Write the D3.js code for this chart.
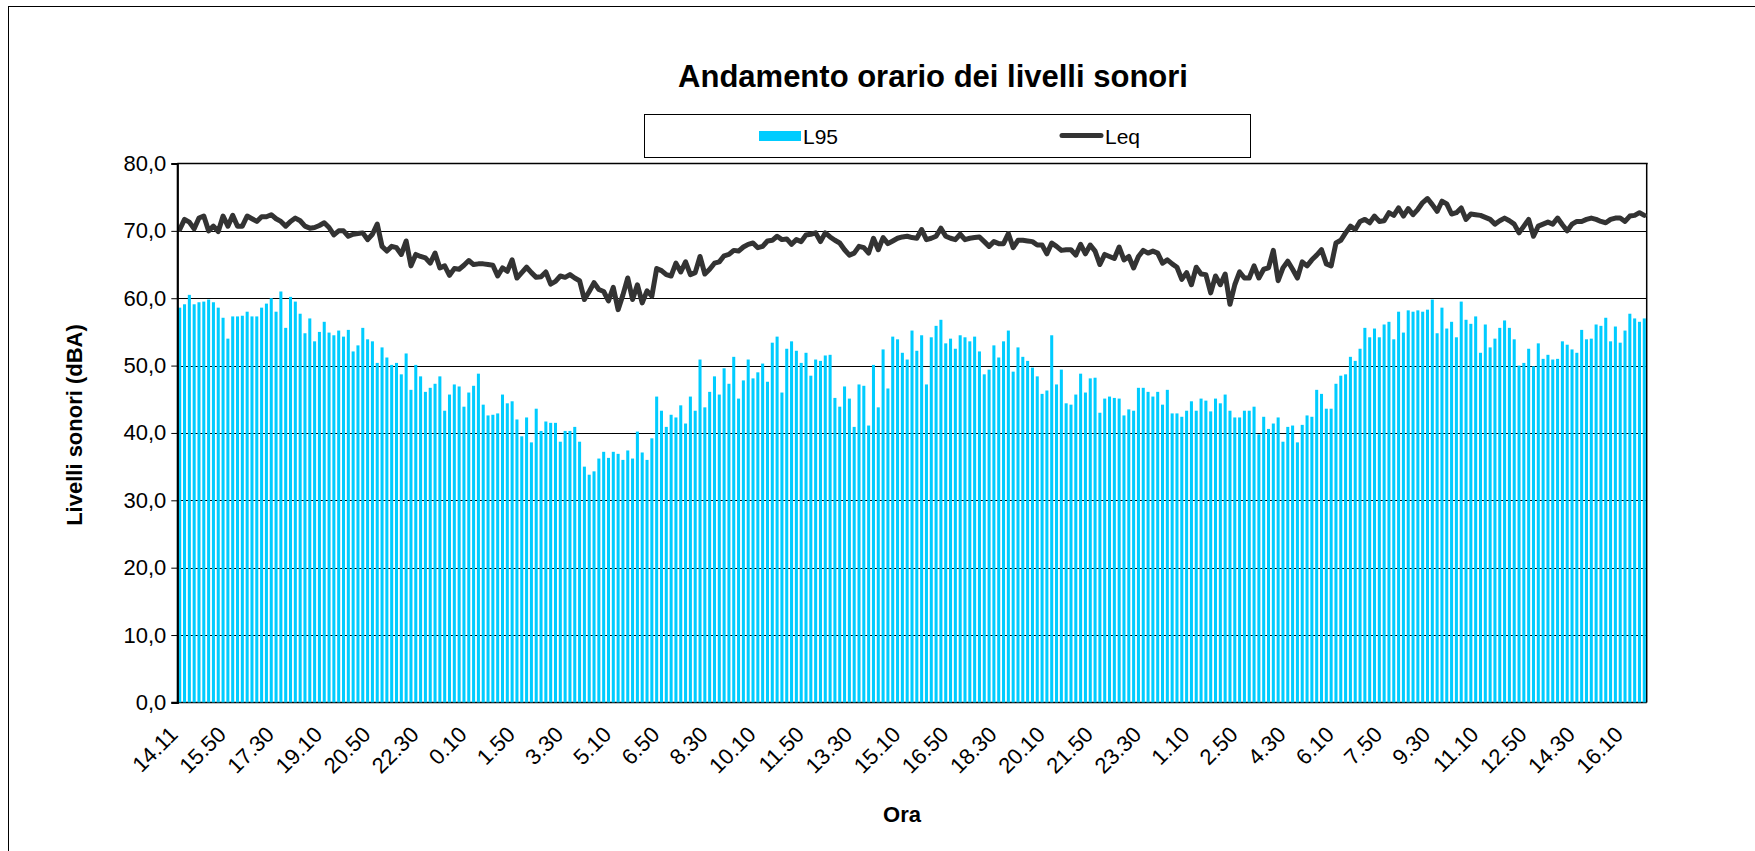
<!DOCTYPE html>
<html>
<head>
<meta charset="utf-8">
<script src="https://cdn.jsdelivr.net/npm/d3@7"></script>
<style>
  html, body { margin: 0; padding: 0; background: #ffffff; }
  svg { display: block; font-family: "Liberation Sans", Arial, sans-serif; }
</style>
</head>
<body>
<script>
// ---------------- DATA ----------------
const seriesNames = ["L95", "Leq"];

const tickLabels = ["14.11","15.50","17.30","19.10","20.50","22.30","0.10","1.50","3.30","5.10",
  "6.50","8.30","10.10","11.50","13.30","15.10","16.50","18.30","20.10","21.50",
  "23.30","1.10","2.50","4.30","6.10","7.50","9.30","11.10","12.50","14.30","16.10"];

const yTicks = [0, 10, 20, 30, 40, 50, 60, 70, 80];

const L95 = [
  58.6,59.1,60.5,59.1,59.4,59.5,59.8,59.4,58.6,57.1,54.0,57.3,57.3,57.4,58.0,57.3,57.3,58.6,59.2,60.0,
  58.0,61.0,55.6,60.2,59.5,57.7,54.8,57.0,53.6,55.0,56.5,54.9,54.5,55.2,54.3,55.3,52.1,53.0,55.6,53.9,
  53.6,50.4,52.7,51.2,50.1,50.4,48.7,51.8,46.4,50.1,48.4,46.1,46.7,47.3,48.4,43.3,45.7,47.2,46.9,43.9,
  46.0,47.0,48.8,44.2,42.6,42.7,42.9,45.7,44.4,44.7,42.0,39.5,42.3,38.6,43.6,40.3,41.7,41.5,41.5,38.7,
  40.3,40.3,40.9,38.7,35.0,33.8,34.3,36.2,37.2,36.3,37.2,36.9,36.0,37.4,36.2,40.2,37.1,36.0,39.2,45.4,
  43.3,40.9,42.7,42.3,44.1,41.4,45.4,43.3,50.9,43.8,46.1,48.4,45.7,49.6,47.3,51.3,45.1,47.8,50.9,48.1,
  49.0,50.3,47.6,53.4,54.3,46.0,52.5,53.6,52.2,50.4,51.9,48.5,50.9,50.7,51.5,51.6,45.2,43.9,46.9,45.1,
  40.9,47.2,47.0,41.1,50.1,43.8,52.4,46.6,54.3,53.9,51.9,50.9,55.2,52.2,54.5,47.2,54.2,55.9,56.8,53.3,
  54.0,52.5,54.5,54.2,53.6,54.3,52.1,48.7,49.4,53.0,51.2,53.6,55.2,49.1,52.7,51.3,50.7,49.7,48.4,45.8,
  46.3,54.5,47.2,49.4,44.4,44.2,45.7,48.8,46.0,48.1,48.2,43.0,45.1,45.4,45.2,45.1,42.6,43.5,43.3,46.7,
  46.7,46.1,45.4,46.1,44.2,46.4,42.9,42.9,42.4,43.3,44.7,43.3,45.1,44.8,43.2,45.1,44.4,45.7,43.3,42.3,
  42.3,43.3,43.3,43.9,39.8,42.4,40.6,41.4,42.3,38.7,40.9,41.1,38.6,41.2,42.6,42.4,46.4,45.8,43.6,43.6,
  47.3,48.5,48.7,51.3,50.7,52.5,55.6,54.2,55.5,54.2,56.1,56.5,53.9,58.0,54.9,58.2,58.0,58.2,58.0,58.3,
  59.8,54.8,58.6,55.5,56.5,54.2,59.5,56.8,56.2,57.3,51.9,56.1,52.7,54.0,55.6,56.7,55.6,53.9,50.0,50.4,
  52.5,49.9,53.3,51.0,51.6,50.9,51.0,53.6,53.1,52.4,51.9,55.3,53.9,54.0,56.1,55.9,57.1,53.6,55.8,53.4,
  55.2,57.7,57.0,56.5,57.0
];

const Leq = [
  70.2,71.7,71.3,70.3,71.9,72.2,70.0,70.7,69.9,72.2,70.7,72.3,70.7,70.7,72.2,71.8,71.4,72.1,72.1,72.4,
  71.8,71.4,70.7,71.4,71.9,71.5,70.7,70.4,70.5,70.8,71.2,70.5,69.4,70.0,70.0,69.2,69.5,69.6,
  69.7,68.7,69.5,71.0,67.7,67.0,67.7,67.5,66.5,68.5,64.8,66.5,66.2,66.0,65.2,66.7,64.5,64.8,63.4,64.4,
  64.3,64.9,65.6,65.0,65.1,65.1,65.0,64.9,63.3,64.5,64.0,65.7,63.0,63.8,64.6,63.8,63.1,63.2,63.9,
  62.1,62.5,63.3,63.1,63.5,63.0,62.6,59.8,61.0,62.3,61.3,61.0,59.6,61.6,58.3,60.5,63.0,59.8,62.0,59.3,
  61.1,60.3,64.4,64.1,63.5,63.3,65.2,63.9,65.4,63.5,63.8,66.2,63.6,64.3,65.2,65.4,66.3,66.5,
  67.1,67.0,67.6,68.0,68.2,67.5,67.7,68.5,68.6,69.2,68.7,68.8,68.0,68.7,68.4,69.4,69.5,69.7,68.4,69.7,
  69.1,68.6,68.2,67.2,66.4,66.7,67.7,67.5,66.7,68.9,67.2,69.0,68.1,68.5,68.9,69.1,69.2,69.0,
  68.9,70.2,68.7,68.9,69.2,70.4,69.2,68.9,68.7,69.5,68.7,68.9,69.0,69.1,68.4,67.7,68.4,68.1,68.1,69.6,
  67.5,68.6,68.6,68.5,68.4,67.9,67.9,66.6,68.2,67.7,67.1,67.2,67.2,66.4,68.0,66.6,67.9,67.0,65.0,
  66.5,66.2,65.9,67.6,65.7,66.2,64.5,66.2,67.1,66.7,67.0,66.7,65.2,65.7,65.1,64.6,62.8,63.8,62.0,64.6,
  63.6,63.5,60.8,63.3,62.0,63.6,59.1,62.0,63.9,63.0,63.0,64.8,63.0,64.3,64.5,67.1,62.6,64.5,
  65.5,64.3,63.0,65.4,64.8,65.7,66.4,67.2,65.1,64.8,68.2,68.6,69.7,70.7,70.2,71.4,71.7,71.2,72.2,71.4,
  71.5,72.7,72.3,73.4,72.2,73.3,72.4,73.2,74.2,74.8,73.9,72.9,74.4,74.0,72.5,72.7,
  73.4,71.7,72.5,72.4,72.3,72.0,71.7,71.0,71.5,71.9,71.5,71.0,69.7,70.7,71.7,69.2,70.7,71.0,71.3,71.0,
  71.9,70.9,70.0,71.0,71.4,71.4,71.7,71.9,71.7,71.4,71.2,71.7,71.9,71.9,71.4,72.2,72.3,72.7,72.3
];

// time categories: first reading at 14.11, then every 10 minutes
const categories = L95.map((_, k) => {
  if (k === 0) return "14.11";
  const m = 14 * 60 + 10 + k * 10;
  return Math.floor(m / 60) % 24 + "." + String(m % 60).padStart(2, "0");
});

// ---------------- LAYOUT ----------------
const W = 1755, H = 851;
const plot = { left: 177.3, right: 1646.7, top: 163.5, bottom: 702.4 };

const svg = d3.select("body").append("svg")
  .attr("width", W).attr("height", H);

svg.append("rect").attr("width", W).attr("height", H).attr("fill", "#ffffff");

// outer chart border (extends beyond viewport on right/bottom)
svg.append("rect")
  .attr("x", 8.5).attr("y", 6.5).attr("width", W + 20).attr("height", H + 20)
  .attr("fill", "none").attr("stroke", "#000").attr("stroke-width", 1);

const idx = d3.range(L95.length);
const x = d3.scaleBand().domain(idx).range([plot.left, plot.right])
  .paddingInner(0.37).paddingOuter(0.185);
const y = d3.scaleLinear().domain([0, 80]).range([plot.bottom, plot.top]);

const itFmt = d3.formatLocale({ decimal: ",", thousands: ".", grouping: [3], currency: ["€", ""] }).format(".1f");

// gridlines (behind bars)
svg.append("g").selectAll("line")
  .data(yTicks.filter(t => t > 0 && t < 80))
  .join("line")
  .attr("x1", plot.left).attr("x2", plot.right)
  .attr("y1", d => Math.round(y(d)) + 0.5).attr("y2", d => Math.round(y(d)) + 0.5)
  .attr("stroke", "#000").attr("stroke-width", 1);

// x axis line (behind bars)
svg.append("line")
  .attr("x1", plot.left).attr("x2", plot.right)
  .attr("y1", plot.bottom).attr("y2", plot.bottom)
  .attr("stroke", "#000").attr("stroke-width", 1.5);

// bars
svg.append("g").selectAll("rect")
  .data(L95)
  .join("rect")
  .attr("x", (d, i) => x(i))
  .attr("width", x.bandwidth())
  .attr("y", d => y(d))
  .attr("height", d => y(0) - y(d))
  .attr("fill", "#00CCFF");

// plot border top / right
svg.append("line")
  .attr("x1", plot.left).attr("x2", plot.right + 1)
  .attr("y1", plot.top).attr("y2", plot.top)
  .attr("stroke", "#000").attr("stroke-width", 1.5);
svg.append("line")
  .attr("x1", plot.right).attr("x2", plot.right)
  .attr("y1", plot.top).attr("y2", plot.bottom)
  .attr("stroke", "#000").attr("stroke-width", 1.5);

// Leq line
const line = d3.line()
  .x((d, i) => x(i) + x.bandwidth() / 2)
  .y(d => y(d));
svg.append("path")
  .datum(Leq)
  .attr("d", line)
  .attr("fill", "none")
  .attr("stroke", "#333333")
  .attr("stroke-width", 5)
  .attr("stroke-linejoin", "round")
  .attr("stroke-linecap", "round");

// y axis
const yAxis = svg.append("g")
  .attr("transform", `translate(${plot.left},0)`)
  .call(d3.axisLeft(y).tickValues(yTicks).tickSize(6).tickPadding(5).tickFormat(itFmt));
yAxis.select(".domain").attr("stroke", "#000").attr("stroke-width", 2.2);
yAxis.selectAll(".tick line").attr("stroke", "#000");
yAxis.selectAll("text")
  .attr("font-size", 22).attr("fill", "#000")
  .style("font-family", '"Liberation Sans", Arial, sans-serif');

// x axis labels
const xAxis = svg.append("g")
  .attr("transform", `translate(0,${plot.bottom})`)
  .call(d3.axisBottom(x)
    .tickValues(idx.filter(i => i % 10 === 0))
    .tickSize(0)
    .tickFormat(i => tickLabels[i / 10]));
xAxis.select(".domain").remove();
xAxis.selectAll("text")
  .attr("font-size", 22).attr("fill", "#000")
  .style("font-family", '"Liberation Sans", Arial, sans-serif')
  .attr("text-anchor", "end")
  .attr("x", 0).attr("y", 0).attr("dy", "0.35em")
  .attr("transform", "translate(-6,28) rotate(-45)");

// title
svg.append("text")
  .attr("x", 933).attr("y", 87)
  .attr("text-anchor", "middle")
  .attr("font-size", 31).attr("font-weight", "bold")
  .text("Andamento orario dei livelli sonori");

// axis titles
svg.append("text")
  .attr("transform", "translate(82,425) rotate(-90)")
  .attr("text-anchor", "middle")
  .attr("font-size", 22).attr("font-weight", "bold")
  .text("Livelli sonori (dBA)");

svg.append("text")
  .attr("x", 902).attr("y", 822)
  .attr("text-anchor", "middle")
  .attr("font-size", 22).attr("font-weight", "bold")
  .text("Ora");

// legend
const lg = svg.append("g");
lg.append("rect")
  .attr("x", 644.5).attr("y", 114.5).attr("width", 606).attr("height", 43)
  .attr("fill", "#fff").attr("stroke", "#000").attr("stroke-width", 1);
lg.append("rect")
  .attr("x", 759).attr("y", 131).attr("width", 42).attr("height", 10)
  .attr("fill", "#00CCFF");
lg.append("text")
  .attr("x", 803).attr("y", 144).attr("font-size", 21)
  .text(seriesNames[0]);
lg.append("line")
  .attr("x1", 1062).attr("x2", 1101).attr("y1", 135.5).attr("y2", 135.5)
  .attr("stroke", "#333333").attr("stroke-width", 5).attr("stroke-linecap", "round");
lg.append("text")
  .attr("x", 1105).attr("y", 144).attr("font-size", 21)
  .text(seriesNames[1]);
</script>
</body>
</html>
